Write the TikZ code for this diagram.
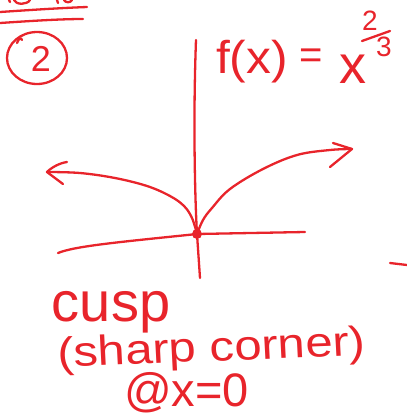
\documentclass[tikz,border=0pt]{standalone}
\usepackage{fontspec}
\setmainfont{Liberation Sans}
\definecolor{ink}{HTML}{E8242B}
\tikzset{
  pen/.style={draw=ink, line width=2.3pt, line cap=round, line join=round},
  hand/.style={text=ink, inner sep=0pt, outer sep=0pt},
}
\newcommand{\fsz}[1]{\fontsize{#1}{#1}\selectfont}
\begin{document}
\begin{tikzpicture}[x=1pt,y=-1pt]
\useasboundingbox (0,0) rectangle (407,416);
% partial header text at top (cut off) and underlines
\draw[pen] (9,0) -- (10,2);
\draw[pen] (14,0) .. controls (16,5) and (27,5) .. (30,0);
\draw[pen] (57,0) -- (58,3);
\draw[pen] (64,0) .. controls (66,3) and (70,3) .. (72,0);
\draw[pen] (0,12) .. controls (30,10) and (60,8) .. (87,7);
\draw[pen] (0,23) .. controls (30,21) and (60,19) .. (83,19);
% circled 2
\draw[pen] (17,43) .. controls (19,38) and (21,37) .. (22,40);
\draw[pen] (37,58) ellipse [x radius=30, y radius=26];
\node[hand, font=\fsz{36}] (two) at (41,59) {2};
% axes
\coordinate (ytop) at (196,40);
\coordinate (ybot) at (200,278);
\coordinate (o) at (197,234);
\draw[pen] (ytop) .. controls (193,120) and (195,200) .. (o) -- (ybot);
\coordinate (xl) at (58,253);
\coordinate (xr) at (305,232);
\draw[pen] (xl) .. controls (75,246) and (120,242) .. (o) -- (xr);
\fill[ink] (o) circle (5);
% graph of x^(2/3)
\coordinate (lend) at (47,172);
\coordinate (rend) at (352,149);
\draw[pen] plot[smooth, tension=0.6] coordinates {(o) (192,218) (184,206) (170,196) (147,186) (115,178) (80,173) (lend)};
\draw[pen] plot[smooth, tension=0.6] coordinates {(o) (203,220) (212,208) (230,189) (263,169) (297,155) (330,150) (rend)};
% arrowheads
\coordinate (la) at (67,162);
\coordinate (lb) at (63,184);
\draw[pen] (la) .. controls (60,163) and (52,167) .. (lend) -- (lb);
\coordinate (ra) at (333,143);
\coordinate (rb) at (330,167);
\draw[pen] (ra) -- (rend) -- (rb);
% right margin dash
\coordinate (da) at (390,263);
\coordinate (db) at (407,265);
\draw[pen] (da) -- (db);
% f(x) = x^{2/3}
\node[hand, font=\fsz{46}, anchor=base west, xscale=1.08] (fx) at (216,73) {f(x)};
\node[hand, font=\fsz{40}] (eq) at (311,59) {=};
\node[hand, font=\fsz{54}, anchor=base west] (xx) at (339,83) {x};
\node[hand, font=\fsz{28}] (num) at (370,21) {2};
\coordinate (sa) at (362,41);
\coordinate (sb) at (390,31);
\draw[pen] (sa) -- (sb);
\node[hand, font=\fsz{28}] (den) at (384,47) {3};
% notes
\node[hand, font=\fsz{56}, anchor=base west] (cusp) at (52,321) {cusp};
\node[hand, font=\fsz{42}, anchor=base west, xscale=1.17, rotate=2.5] (sharp) at (58,367) {(sharp corner)};
\node[hand, font=\fsz{47}, anchor=base west] (at) at (124,406) {@x=0};
\end{tikzpicture}
\end{document}
